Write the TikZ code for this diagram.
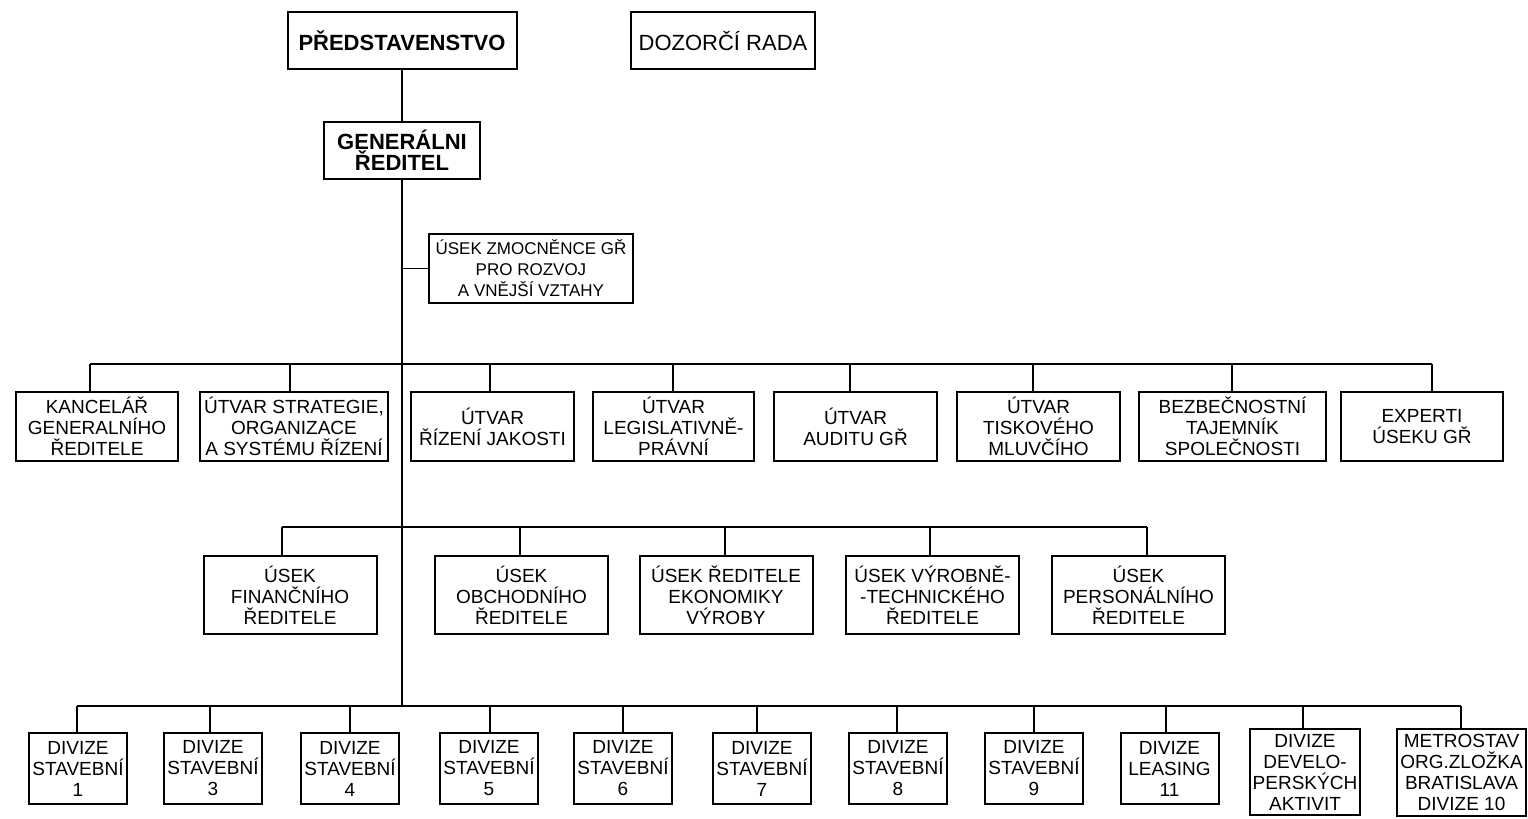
\documentclass[tikz,border=0pt]{standalone}
\usepackage{fontspec}
\setmainfont{Liberation Sans}
\begin{document}
\begin{tikzpicture}[x=0.5pt,y=-0.5pt,
  box/.style={draw, line width=1pt, inner sep=0pt, align=center, font=\fontsize{9.5}{10.5}\selectfont},
  link/.style={line width=0.9pt}]
\useasboundingbox[fill=white] (0,0) rectangle (1528,819);

% top
\node[box, font=\bfseries\fontsize{11}{12}\selectfont, minimum width=114.5pt, minimum height=28.5pt] (pred) at (402,40.5) {PŘEDSTAVENSTVO};
\node[box, font=\fontsize{11}{12}\selectfont, minimum width=92pt, minimum height=28.5pt] (dozor) at (723,40.5) {DOZORČÍ RADA};
\node[box, font=\bfseries\fontsize{11}{10.5}\selectfont, minimum width=78pt, minimum height=28.5pt] (gen) at (402,150.5) {GENERÁLNI\\ŘEDITEL};
\node[box, font=\fontsize{8.5}{10.5}\selectfont, minimum width=102pt, minimum height=34.5pt] (zmoc) at (531,268.5) {ÚSEK ZMOCNĚNCE GŘ\\PRO ROZVOJ\\A VNĚJŠÍ VZTAHY};

\coordinate (tb) at (402,706);
\draw[link] (pred) -- (gen);
\draw[link] (gen.south) -- (tb);
\draw[link] (gen.south |- zmoc.west) -- (zmoc.west);

% row 1
\begin{scope}[every node/.append style={box, minimum height=34.5pt}]
\node[minimum width=81pt] (a1) at (97,426.5) {KANCELÁŘ\\GENERALNÍHO\\ŘEDITELE};
\node[minimum width=94pt] (a2) at (294,426.5) {ÚTVAR STRATEGIE,\\ORGANIZACE\\A SYSTÉMU ŘÍZENÍ};
\node[minimum width=81.5pt] (a3) at (492.5,426.5) {ÚTVAR\\ŘÍZENÍ JAKOSTI};
\node[minimum width=80.5pt] (a4) at (673.5,426.5) {ÚTVAR\\LEGISLATIVNĚ-\\PRÁVNÍ};
\node[minimum width=81.5pt] (a5) at (855.5,426.5) {ÚTVAR\\AUDITU GŘ};
\node[minimum width=81.5pt] (a6) at (1038.5,426.5) {ÚTVAR\\TISKOVÉHO\\MLUVČÍHO};
\node[minimum width=93.5pt] (a7) at (1232.5,426.5) {BEZBEČNOSTNÍ\\TAJEMNÍK\\SPOLEČNOSTI};
\node[minimum width=81pt] (a8) at (1422,426.5) {EXPERTI\\ÚSEKU GŘ};
\end{scope}
\coordinate (b1l) at (90,364);
\coordinate (b1r) at (1432,364);
\draw[link] (b1l) -- (b1r);
\foreach \n/\x in {a1/90,a2/290,a3/490,a4/673,a5/850,a6/1033,a7/1232,a8/1432}{
  \coordinate (j\n) at (\x,364);
  \draw[link] (j\n) -- (j\n |- \n.north);
}

% row 2
\begin{scope}[every node/.append style={box, minimum height=39pt, minimum width=86.5pt}]
\node (c1) at (290,595) {ÚSEK\\FINANČNÍHO\\ŘEDITELE};
\node (c2) at (521.5,595) {ÚSEK\\OBCHODNÍHO\\ŘEDITELE};
\node (c3) at (726,595) {ÚSEK ŘEDITELE\\EKONOMIKY\\VÝROBY};
\node (c4) at (932.5,595) {ÚSEK VÝROBNĚ-\\-TECHNICKÉHO\\ŘEDITELE};
\node (c5) at (1138.5,595) {ÚSEK\\PERSONÁLNÍHO\\ŘEDITELE};
\end{scope}
\coordinate (b2l) at (282,527);
\coordinate (b2r) at (1147,527);
\draw[link] (b2l) -- (b2r);
\foreach \n/\x in {c1/282,c2/520,c3/725,c4/930,c5/1147}{
  \coordinate (j\n) at (\x,527);
  \draw[link] (j\n) -- (j\n |- \n.north);
}

% row 3
\begin{scope}[every node/.append style={box, minimum height=35.5pt, minimum width=49pt}]
\node (d1) at (78,768.5) {DIVIZE\\STAVEBNÍ\\1};
\node (d2) at (213,768.5) {DIVIZE\\STAVEBNÍ\\3};
\node (d3) at (350,768.5) {DIVIZE\\STAVEBNÍ\\4};
\node (d4) at (489,768.5) {DIVIZE\\STAVEBNÍ\\5};
\node (d5) at (623,768.5) {DIVIZE\\STAVEBNÍ\\6};
\node (d6) at (762,768.5) {DIVIZE\\STAVEBNÍ\\7};
\node (d7) at (898,768.5) {DIVIZE\\STAVEBNÍ\\8};
\node (d8) at (1034,768.5) {DIVIZE\\STAVEBNÍ\\9};
\node (d9) at (1169.5,768.5) {DIVIZE\\LEASING\\11};
\node[minimum width=55pt, minimum height=43pt] (d10) at (1305,772) {DIVIZE\\DEVELO-\\PERSKÝCH\\AKTIVIT};
\node[minimum width=64.5pt, minimum height=43.5pt] (d11) at (1461.5,772) {METROSTAV\\ORG.ZLOŽKA\\BRATISLAVA\\DIVIZE 10};
\end{scope}
\coordinate (b3l) at (77,706);
\coordinate (b3r) at (1461,706);
\draw[link] (b3l) -- (b3r);
\foreach \n/\x in {d1/77,d2/210,d3/350,d4/490,d5/623,d6/757,d7/897,d8/1034,d9/1166,d10/1303,d11/1461}{
  \coordinate (j\n) at (\x,706);
  \draw[link] (j\n) -- (j\n |- \n.north);
}
\end{tikzpicture}
\end{document}
